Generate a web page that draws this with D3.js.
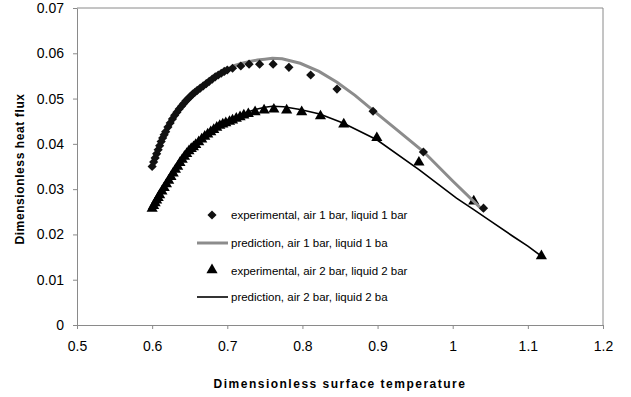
<!doctype html>
<html lang="en">
  <head>
    <meta charset="utf-8">
    <title>Dimensionless heat flux vs surface temperature</title>
    <script src="https://d3js.org/d3.v7.min.js"></script>
    <style>
      body { margin: 0; background: #fff; }
      svg { display: block; font-family: "Liberation Sans", Arial, sans-serif; }
      .axis path, .axis line { stroke: #8a8a8a; }
      .axis text { font-size: 14px; fill: #000; }
      .legend text { font-size: 11.5px; fill: #000; }
    </style>
  </head>
  <body>
    <div id="chart"></div>
    <script>
      // data
      const expAir1X = [0.600,0.602,0.604,0.606,0.608,0.610,0.612,0.614,0.616,0.618,0.621,0.624,0.627,0.630,0.633,0.636,0.639,0.642,0.645,0.648,0.651,0.654,0.657,0.660,0.664,0.668,0.672,0.676,0.680,0.684,0.688,0.692,0.696,0.700,0.707,0.718,0.729,0.743,0.761,0.782,0.811,0.846,0.894,0.961,1.041];
      const expAir1Y = [0.0350,0.0360,0.0369,0.0378,0.0387,0.0396,0.0405,0.0413,0.0420,0.0427,0.0437,0.0446,0.0455,0.0463,0.0470,0.0477,0.0483,0.0489,0.0495,0.0500,0.0505,0.0510,0.0514,0.0518,0.0523,0.0528,0.0533,0.0538,0.0543,0.0548,0.0552,0.0556,0.0560,0.0563,0.0567,0.0572,0.0576,0.0576,0.0576,0.0569,0.0552,0.0521,0.0472,0.0382,0.0258];

      const predAir1X = [0.600,0.610,0.620,0.630,0.640,0.650,0.660,0.670,0.680,0.690,0.700,0.710,0.720,0.730,0.740,0.750,0.760,0.773,0.797,0.822,0.846,0.870,0.894,0.925,0.961,1.000,1.041];
      const predAir1Y = [0.0352,0.0395,0.0433,0.0464,0.0488,0.0506,0.0521,0.0533,0.0545,0.0556,0.0565,0.0573,0.0578,0.0582,0.0585,0.0587,0.0589,0.0588,0.0578,0.0560,0.0536,0.0507,0.0474,0.0432,0.0383,0.0318,0.0252];

      const expAir2X = [0.600,0.602,0.604,0.606,0.608,0.610,0.613,0.616,0.619,0.622,0.625,0.628,0.631,0.634,0.637,0.640,0.643,0.646,0.649,0.652,0.655,0.658,0.662,0.666,0.670,0.674,0.678,0.682,0.686,0.690,0.694,0.698,0.703,0.707,0.712,0.717,0.722,0.728,0.737,0.749,0.762,0.779,0.799,0.824,0.855,0.899,0.955,1.028,1.118];
      const expAir2Y = [0.0255,0.0261,0.0267,0.0273,0.0279,0.0285,0.0293,0.0301,0.0309,0.0317,0.0325,0.0333,0.0341,0.0348,0.0356,0.0363,0.0370,0.0376,0.0382,0.0387,0.0391,0.0396,0.0402,0.0408,0.0414,0.0419,0.0424,0.0429,0.0434,0.0438,0.0441,0.0444,0.0447,0.0450,0.0454,0.0457,0.0461,0.0464,0.0468,0.0472,0.0474,0.0472,0.0468,0.0459,0.0441,0.0411,0.0357,0.0271,0.0150];

      const predAir2X = [0.600,0.610,0.620,0.630,0.640,0.650,0.660,0.670,0.680,0.690,0.700,0.710,0.720,0.730,0.740,0.750,0.760,0.775,0.797,0.823,0.854,0.899,0.956,1.005,1.027,1.050,1.080,1.100,1.118];
      const predAir2Y = [0.0258,0.0290,0.0320,0.0345,0.0368,0.0387,0.0403,0.0417,0.0430,0.0441,0.0451,0.0459,0.0466,0.0472,0.0477,0.0481,0.0483,0.0482,0.0476,0.0466,0.0446,0.0409,0.0342,0.0280,0.0256,0.0230,0.0196,0.0174,0.0152];

      const xTicks = [0.5, 0.6, 0.7, 0.8, 0.9, 1, 1.1, 1.2];
      const yTicks = [0, 0.01, 0.02, 0.03, 0.04, 0.05, 0.06, 0.07];

      const legendLabels = [
        "experimental, air 1 bar, liquid 1 bar",
        "prediction, air 1 bar, liquid 1 ba",
        "experimental, air 2 bar, liquid 2 bar",
        "prediction, air 2 bar, liquid 2 ba"
      ];

      const W = 631, H = 397;
      const margin = {top: 8, right: 28, bottom: 72, left: 77};
      const width = W - margin.left - margin.right,
            height = H - margin.top - margin.bottom;

      const root = d3.select("#chart").append("svg")
        .attr("width", W)
        .attr("height", H);
      const svg = root.append("g")
        .attr("transform", `translate(${margin.left}, ${margin.top})`);

      const x = d3.scaleLinear().domain([0.5, 1.2]).range([0, width]);
      const y = d3.scaleLinear().domain([0, 0.07]).range([height, 0]);

      // plot frame (top and right edges)
      svg.append("path")
        .attr("d", `M0,0H${width}V${height}`)
        .attr("fill", "none")
        .attr("stroke", "#8a8a8a");

      svg.append("g")
        .attr("class", "axis")
        .attr("transform", `translate(0, ${height})`)
        .call(d3.axisBottom(x).tickValues(xTicks).tickSize(4).tickPadding(12).tickSizeOuter(0)
          .tickFormat(d3.format("")));

      svg.append("g")
        .attr("class", "axis")
        .call(d3.axisLeft(y).tickValues(yTicks).tickSize(4).tickPadding(9).tickSizeOuter(0)
          .tickFormat(d3.format("")));

      const line = d3.line().x(d => x(d[0])).y(d => y(d[1]));
      const pred1 = d3.zip(predAir1X, predAir1Y);
      const pred2 = d3.zip(predAir2X, predAir2Y);

      // square turned 45 degrees gives the even diamond of the picture
      const diamond = d3.symbol().type(d3.symbolSquare).size(42);
      const triangle = d3.symbol().type(d3.symbolTriangle).size(54);

      // triangles (2 bar)
      svg.append("g")
        .selectAll("path")
        .data(d3.zip(expAir2X, expAir2Y))
        .join("path")
          .attr("d", triangle)
          .attr("transform", d => `translate(${x(d[0])}, ${y(d[1]) - 1})`)
          .attr("fill", "#000");

      svg.append("path")
        .datum(pred2)
        .attr("d", line)
        .attr("fill", "none")
        .attr("stroke", "#000")
        .attr("stroke-width", 1.6);

      svg.append("path")
        .datum(pred1)
        .attr("d", line)
        .attr("fill", "none")
        .attr("stroke", "#8c8c8c")
        .attr("stroke-width", 3);

      // diamonds (1 bar)
      svg.append("g")
        .selectAll("path")
        .data(d3.zip(expAir1X, expAir1Y))
        .join("path")
          .attr("d", diamond)
          .attr("transform", d => `translate(${x(d[0])}, ${y(d[1])}) rotate(45)`)
          .attr("fill", "#111");

      // legend
      const legend = root.append("g").attr("class", "legend");
      const legY = [215, 243, 271, 297];
      legendLabels.forEach((label, i) => {
        const g = legend.append("g").attr("transform", `translate(0, ${legY[i]})`);
        if (i === 0) {
          g.append("path").attr("d", diamond).attr("transform", "translate(212, 0) rotate(45)").attr("fill", "#111");
        } else if (i === 2) {
          g.append("path").attr("d", triangle).attr("transform", "translate(212, -1)").attr("fill", "#000");
        } else {
          g.append("line")
            .attr("x1", 197).attr("x2", 228)
            .attr("stroke", i === 1 ? "#8c8c8c" : "#000")
            .attr("stroke-width", i === 1 ? 3 : 1.6);
        }
        g.append("text")
          .attr("x", 231)
          .attr("dy", "0.35em")
          .text(label);
      });

      // axis titles
      root.append("text")
        .attr("x", 340)
        .attr("y", 388)
        .attr("text-anchor", "middle")
        .style("font-size", "12px")
        .style("font-weight", "bold")
        .style("letter-spacing", "1.5px")
        .text("Dimensionless surface temperature");

      root.append("text")
        .attr("transform", "rotate(-90)")
        .attr("x", -169)
        .attr("y", 24)
        .attr("text-anchor", "middle")
        .style("font-size", "12px")
        .style("font-weight", "bold")
        .style("letter-spacing", "0.6px")
        .text("Dimensionless heat flux");
    </script>
  </body>
</html>
